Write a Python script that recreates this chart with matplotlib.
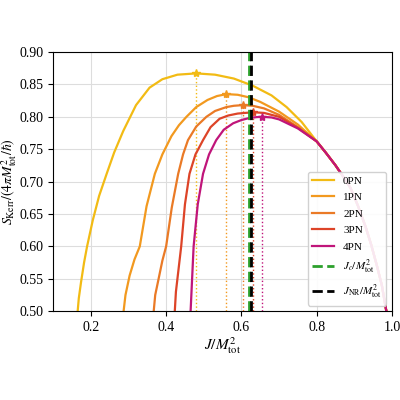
import matplotlib
matplotlib.use("Agg")
import matplotlib.pyplot as plt

plt.rcParams['font.family'] = ['Liberation Serif', 'DejaVu Serif']
plt.rcParams['mathtext.fontset'] = 'stix'

labels = ['0PN', '1PN', '2PN', '3PN', '4PN']
colors = ['#f2bb14', '#f2991f', '#ea7a26', '#dd4428', '#c0157a']
tail_x = [0.8, 0.825, 0.85, 0.87, 0.89, 0.91, 0.93, 0.945, 0.96, 0.973, 0.985]
tail_y = [0.762, 0.744, 0.725, 0.708, 0.69, 0.662, 0.63, 0.602, 0.57, 0.54, 0.5]
xs = [
    [0.165, 0.168, 0.174, 0.182, 0.19, 0.205, 0.222, 0.242, 0.262, 0.286, 0.32, 0.356, 0.39, 0.43, 0.48, 0.53, 0.58, 0.63, 0.68, 0.72, 0.76],
    [0.287, 0.292, 0.303, 0.316, 0.33, 0.348, 0.37, 0.39, 0.414, 0.434, 0.454, 0.48, 0.51, 0.535, 0.56, 0.59, 0.62, 0.65, 0.7, 0.75],
    [0.367, 0.371, 0.38, 0.39, 0.40, 0.415, 0.432, 0.445, 0.458, 0.48, 0.507, 0.53, 0.56, 0.58, 0.603, 0.63, 0.66, 0.7, 0.75],
    [0.423, 0.426, 0.431, 0.436, 0.44, 0.45, 0.462, 0.478, 0.498, 0.518, 0.542, 0.565, 0.59, 0.61, 0.632, 0.66, 0.7, 0.75],
    [0.465, 0.467, 0.469, 0.471, 0.473, 0.484, 0.498, 0.514, 0.533, 0.553, 0.578, 0.6, 0.62, 0.64, 0.655, 0.68, 0.7, 0.75],
]
ys = [
    [0.5, 0.52, 0.545, 0.575, 0.6, 0.64, 0.678, 0.712, 0.745, 0.778, 0.818, 0.845, 0.858, 0.865, 0.867, 0.865, 0.859, 0.848, 0.833, 0.815, 0.792],
    [0.5, 0.525, 0.555, 0.58, 0.6, 0.662, 0.712, 0.742, 0.77, 0.787, 0.8, 0.815, 0.826, 0.832, 0.835, 0.834, 0.83, 0.823, 0.808, 0.788],
    [0.5, 0.525, 0.55, 0.578, 0.6, 0.66, 0.712, 0.742, 0.764, 0.785, 0.8, 0.809, 0.815, 0.817, 0.818, 0.817, 0.813, 0.803, 0.784],
    [0.5, 0.53, 0.555, 0.58, 0.6, 0.665, 0.712, 0.742, 0.764, 0.784, 0.797, 0.802, 0.805, 0.806, 0.807, 0.806, 0.8, 0.783],
    [0.5, 0.525, 0.55, 0.575, 0.6, 0.665, 0.712, 0.742, 0.764, 0.78, 0.79, 0.795, 0.798, 0.7995, 0.800, 0.799, 0.796, 0.782],
]
peak_x = [0.48, 0.56, 0.603, 0.632, 0.655]
peak_y = [0.867, 0.835, 0.818, 0.807, 0.800]
J_c = 0.620
J_NR = 0.626

fig = plt.figure(figsize=(4, 4), dpi=100)
ax = fig.add_axes([0.133, 0.222, 0.847, 0.648])
for x, y, c, l, px, py in zip(xs, ys, colors, labels, peak_x, peak_y):
    ax.plot(x + tail_x, y + tail_y, color=c, lw=1.6, label=l)
    ax.plot([px, px], [0.5, py], color=c, lw=1.0, ls=':')
    ax.plot(px, py, marker='*', color=c, ms=6)
ax.axvline(J_c, color='#2ca02c', ls='--', lw=2, label=r'$J_c/M_{\rm tot}^2$')
ax.axvline(J_NR, color='black', ls='--', lw=2, label=r'$J_{\rm NR}/M_{\rm tot}^2$')
ax.set_xlim(0.1, 1.0)
ax.set_ylim(0.5, 0.9)
ax.set_xticks([0.2, 0.4, 0.6, 0.8, 1.0])
ax.grid(True, color='#dddddd', lw=0.8)
ax.tick_params(labelsize=10)
ax.set_xlabel(r'$J/M_{\rm tot}^2$', fontsize=11, labelpad=1)
ax.set_ylabel(r'$S_{\rm Kerr}/(4\pi M_{\rm tot}^2/\hbar)$', fontsize=10, labelpad=0)
ax.legend(loc='lower right', fontsize=8, framealpha=0.9, labelspacing=0.6)
fig.savefig('out.png')
